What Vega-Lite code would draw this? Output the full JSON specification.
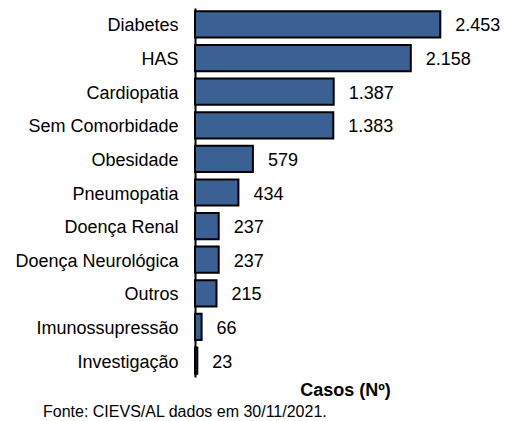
{
  "$schema": "https://vega.github.io/schema/vega-lite/v6.json",
  "description": "Casos por comorbidade, CIEVS/AL 30/11/2021",
  "autosize": "none",
  "width": 300,
  "height": 369,
  "padding": {"left": 195, "top": 8, "right": 10, "bottom": 44},
  "title": {
    "text": "Fonte: CIEVS/AL dados em 30/11/2021.",
    "orient": "bottom",
    "anchor": "start",
    "frame": "group",
    "dx": -152,
    "offset": 5,
    "font": "Liberation Sans",
    "fontSize": 16,
    "fontWeight": "normal",
    "color": "#000000"
  },
  "data": {
    "values": [
      {"comorbidade": "Diabetes", "casos": 2453},
      {"comorbidade": "HAS", "casos": 2158},
      {"comorbidade": "Cardiopatia", "casos": 1387},
      {"comorbidade": "Sem Comorbidade", "casos": 1383},
      {"comorbidade": "Obesidade", "casos": 579},
      {"comorbidade": "Pneumopatia", "casos": 434},
      {"comorbidade": "Doença Renal", "casos": 237},
      {"comorbidade": "Doença Neurológica", "casos": 237},
      {"comorbidade": "Outros", "casos": 215},
      {"comorbidade": "Imunossupressão", "casos": 66},
      {"comorbidade": "Investigação", "casos": 23}
    ]
  },
  "encoding": {
    "y": {
      "field": "comorbidade",
      "type": "nominal",
      "sort": null,
      "scale": {"paddingInner": 0.22, "paddingOuter": 0.1},
      "axis": {
        "title": null,
        "ticks": false,
        "labelPadding": 17,
        "labelOffset": 2,
        "labelFont": "Liberation Sans",
        "labelFontSize": 18,
        "labelColor": "#000000",
        "domainColor": "#000000",
        "domainWidth": 2
      }
    },
    "x": {
      "field": "casos",
      "type": "quantitative",
      "scale": {"domain": [0, 3000], "nice": false},
      "axis": {
        "title": "Casos (Nº)",
        "titleFont": "Liberation Sans",
        "titleFontSize": 18,
        "titleFontWeight": "bold",
        "titleColor": "#000000",
        "titlePadding": 4,
        "labels": false,
        "ticks": false,
        "domain": false,
        "grid": false
      }
    }
  },
  "layer": [
    {
      "mark": {"type": "bar", "color": "#3a6094", "stroke": "#000000", "strokeWidth": 2}
    },
    {
      "mark": {
        "type": "text",
        "align": "left",
        "baseline": "middle",
        "dx": 15,
        "dy": 2,
        "font": "Liberation Sans",
        "fontSize": 18,
        "color": "#000000"
      },
      "encoding": {
        "text": {"field": "casos", "type": "quantitative", "format": ",d"}
      }
    }
  ],
  "config": {
    "view": {"stroke": null},
    "locale": {
      "number": {
        "decimal": ",",
        "thousands": ".",
        "grouping": [3],
        "currency": ["R$", ""]
      }
    }
  }
}
